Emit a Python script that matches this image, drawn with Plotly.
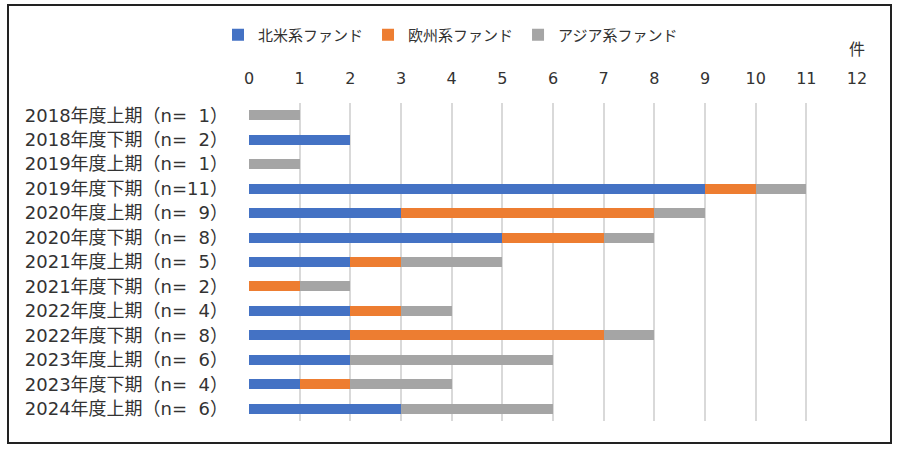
import plotly.graph_objects as go

FS = "\u2007"
periods = ["2018年度上期", "2018年度下期", "2019年度上期", "2019年度下期", "2020年度上期",
           "2020年度下期", "2021年度上期", "2021年度下期", "2022年度上期", "2022年度下期",
           "2023年度上期", "2023年度下期", "2024年度上期"]
totals = [1, 2, 1, 11, 9, 8, 5, 2, 4, 8, 6, 4, 6]
north_america = [0, 2, 0, 9, 3, 5, 2, 0, 2, 2, 2, 1, 3]
europe = [0, 0, 0, 1, 5, 2, 1, 1, 1, 5, 0, 1, 0]
asia = [1, 0, 1, 1, 1, 1, 2, 1, 1, 1, 4, 2, 3]
series_names = ["北米系ファンド", "欧州系ファンド", "アジア系ファンド"]
colors = ["#4472C4", "#ED7D31", "#A5A5A5"]
x_ticks = list(range(0, 13))

labels = [f"{p}（n={str(n).rjust(2, FS)}）" for p, n in zip(periods, totals)]

FONT = "DejaVu Sans, Noto Sans CJK JP"
CJK = "Noto Sans CJK JP"
fig = go.Figure()
for name, vals, c in zip(series_names, [north_america, europe, asia], colors):
    fig.add_trace(go.Bar(y=labels, x=vals, name=name, orientation="h",
                         marker=dict(color=c, line=dict(width=0))))

L, R, T, B = 249, 43, 103, 32
W, H = 900, 453
pw, ph = W - L - R, H - T - B

def px(x):
    return (x - L) / pw

def py(y):
    return (H - B - y) / ph

fig.update_layout(
    width=W, height=H, barmode="stack", bargap=0.59,
    margin=dict(l=L, r=R, t=T, b=B),
    paper_bgcolor="white", plot_bgcolor="white",
    font=dict(family=FONT, size=16, color="#333333"),
    legend=dict(orientation="h", x=px(218), xanchor="left", y=py(35), yanchor="middle",
                font=dict(family=CJK, size=15, color="#333333"), traceorder="normal",
                itemwidth=30, bgcolor="rgba(0,0,0,0)"),
    xaxis=dict(side="top", range=[0, 12], tickvals=x_ticks, showgrid=True,
               gridcolor="#D9D9D9", gridwidth=1.5, zeroline=False, showline=False,
               ticks="", ticklabelstandoff=15, tickfont=dict(size=16, color="#333333")),
    yaxis=dict(autorange="reversed", showgrid=False, showline=False, ticks="",
               ticklabelstandoff=20, tickfont=dict(size=18, color="#333333")),
    showlegend=True,
)
fig.add_annotation(text="件", x=12, xref="x", y=py(48), yref="paper", showarrow=False,
                   font=dict(family=CJK, size=16, color="#333333"), xanchor="center", yanchor="middle")
fig.add_shape(type="rect", xref="paper", yref="paper",
              x0=px(8), x1=px(891), y0=py(443), y1=py(5),
              line=dict(color="#222222", width=2), fillcolor="rgba(0,0,0,0)", layer="above")
fig.write_html("out.html")
